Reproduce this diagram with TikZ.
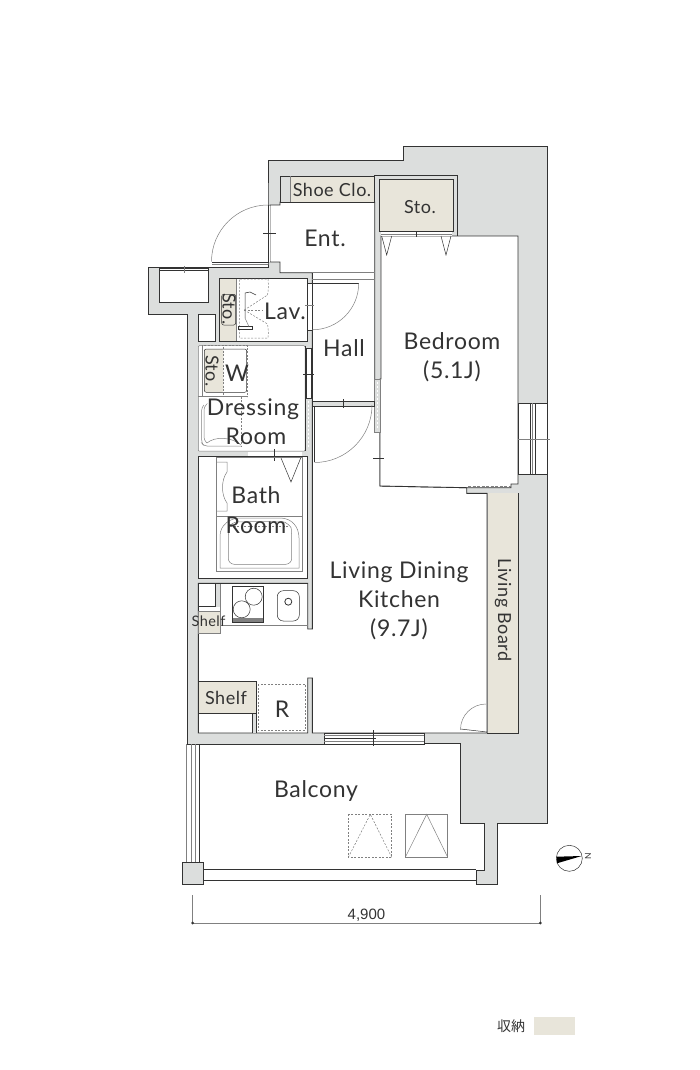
\documentclass[tikz,border=0pt]{standalone}
\usepackage{fontspec}
\setmainfont[LetterSpace=3]{Lato}
\newfontfamily\cjk{Noto Sans CJK JP}
\newfontfamily\dimfont{Liberation Sans}
\definecolor{wallgray}{HTML}{DCDEDD}
\definecolor{storebeige}{HTML}{E8E5DA}
\definecolor{inkdark}{HTML}{333333}
\definecolor{inkgray}{HTML}{808080}
\begin{document}
\begin{tikzpicture}[x=1pt,y=-1pt,
wall/.style={draw=inkdark,line width=0.9pt,line join=miter},
thin gray/.style={draw=inkgray,line width=0.5pt},
thin dark/.style={draw=inkdark,line width=0.5pt},
dash gray/.style={draw=inkgray,line width=0.5pt,dash pattern=on 2pt off 1.5pt},
roomlabel/.style={text=inkdark,font=\fontsize{23}{23}\selectfont,inner sep=0pt,anchor=base,yshift=-1pt},
smalllabel/.style={text=inkdark,font=\fontsize{18}{18}\selectfont,inner sep=0pt}]
\useasboundingbox (0,0) rectangle (700,1070);
\fill[white] (0,0) rectangle (700,1070);
\filldraw[wall,fill=wallgray] (268,160) -- (403,160) -- (403,146) -- (547.5,146) -- (547.5,823) -- (497,823) -- (497,884) -- (476,884) -- (476,870) -- (484,870) -- (484,823) -- (460.5,823) -- (460.5,743.5) -- (424,743.5) -- (424,744) -- (187,744) -- (187,314) -- (148,314) -- (148,267) -- (268,267) -- (268,262) -- (268,205) -- cycle;
\filldraw[wall,fill=white] (270,205) -- (280,205) -- (280,202) -- (374.7,202) -- (374.7,432) -- (380,432) -- (380,486) -- (466.7,487.7) -- (466.7,493.3) -- (487,493.3) -- (487,733) -- (312.3,733) -- (312.3,678) -- (307.7,678) -- (307.7,733) -- (198.3,733) -- (198.3,583.3) -- (307.7,583.3) -- (307.7,629) -- (312.3,629) -- (312.3,272.7) -- (280,272.7) -- (280,262) -- (270,262) -- cycle;
\filldraw[wall,fill=white] (381,236) -- (518,236) -- (518,484) -- (511,484) -- (511,487.7) -- (466.7,487.7) -- (380,486) -- (380,379) -- (381,379) -- cycle;
\filldraw[wall,fill=storebeige] (280,176) rectangle (374.5,202);
\fill[wallgray] (280.5,176.5) rectangle (290,201.5);
\draw[thin gray] (290,176) -- (290,202);
\draw[wall] (374.3,202) -- (374.3,175.7) -- (457.7,175.7) -- (457.7,236);
\filldraw[thin dark,fill=storebeige] (379.3,179.3) rectangle (453.3,231.7);
\fill[white] (381,232) rectangle (452,236);
\draw[thin gray] (381,234) -- (452,234);
\draw[thin dark] (416,231) -- (416,237);
\draw[thin dark] (381.7,236) -- (386.7,255) -- (391.7,236);
\draw[thin dark] (441,236) -- (446,255) -- (451,236);
\filldraw[thin gray,fill=wallgray] (374.7,379) rectangle (380,432);
\draw[draw=white,line width=1pt,dash pattern=on 2pt off 2pt] (377.5,382) -- (377.5,430);
\draw[thin gray] (312,279.3) -- (374.7,279.3);
\draw[thin dark] (373,458.7) -- (384,458.7);
\draw[thin gray] (374.7,272.7) -- (312,272.7);
\filldraw[wall,fill=white] (159.3,268) rectangle (208.3,302.3);
\draw[thin dark] (159.3,270) -- (208.3,270);
\draw[thin gray] (184,266) -- (184,273);
\filldraw[wall,fill=white] (219.7,278.3) rectangle (307.7,341.3);
\filldraw[thin dark,fill=white] (198.3,314) rectangle (215.7,341);
\fill[storebeige] (220.2,278.8) rectangle (236.7,340.8);
\draw[thin gray] (236.7,278.8) -- (236.7,340.8);
\draw[thin dark,rounded corners=2pt] (221.7,294.3) rectangle (235.7,325);
\draw[dash gray] (267.5,295) .. controls (268.5,290) and (268.5,285) .. (268,279) -- (239.3,279) -- (239.3,338) -- (268,338) .. controls (268.5,333) and (268.5,329) .. (267.5,324);
\draw[thin dark] (245,318) -- (245,293) -- (250,292) -- (256,295);
\draw[thin dark] (238.3,326.7) rectangle (252.3,329);
\draw[thin gray] (245,318) -- (249,326.7);
\draw[dash gray] (244.3,310) -- (267.5,295);
\draw[dash gray] (244.3,310) -- (267.5,324);
\draw[dash gray] (244.3,310) -- (262,310);
\filldraw[thin gray,fill=white,rounded corners=1pt] (198.3,345.7) rectangle (305,451.2);
\draw[thin gray] (202.3,345.7) -- (202.3,396.7);
\draw[thin gray] (198.3,396.7) -- (247.7,396.7);
\fill[storebeige,rounded corners=2pt] (204.3,349) rectangle (223.3,392.3);
\draw[thin dark,rounded corners=2pt] (204.3,349) rectangle (246.7,392.3);
\draw[dash gray] (223.3,347) -- (223.3,396);
\draw[dash gray] (202.3,345.7) rectangle (247.7,396.7);
\draw[thin dark] (305,345.7) -- (305,451.2);
\draw[thin gray,rounded corners=3pt] (204,405) -- (201.7,407) -- (201.7,443) -- (204,446) -- (241.7,446);
\draw[thin gray,rounded corners=3pt] (206,405) -- (204,407) -- (204,440) -- (207,443);
\draw[thin gray] (207,443) .. controls (215,436) and (232,437) .. (241,445);
\draw[dash gray] (241.7,396.7) -- (241.7,446);
\filldraw[thin dark,fill=white] (198.3,456.7) rectangle (307.7,578.3);
\fill[white] (247.7,451.5) rectangle (301.7,457);
\draw[thin dark] (247.7,456.7) -- (301.7,456.7);
\draw[thin dark] (274.3,449) -- (274.3,460.7);
\draw[draw=inkgray,line width=0.7pt] (216.7,457.3) rectangle (302.3,571);
\draw[draw=inkgray,line width=1pt] (216.7,516.7) -- (302.3,516.7);
\draw[thin gray] (216.7,462) -- (227,462) -- (227,472) .. controls (221,480) and (221,495) .. (227,503) -- (227,511) -- (216.7,511);
\draw[thin gray] (220,568) -- (220,536) .. controls (220,525) and (230,518) .. (240,518) -- (280,518) .. controls (292,518) and (299,527) .. (299,538) -- (299,568) -- cycle;
\draw[thin gray,rounded corners=6pt] (228.3,564.3) -- (228.3,532) .. controls (230,524) and (236,522) .. (242,521.7) -- (278,521.7) .. controls (285,522) and (291,526) .. (291.7,534) -- (291.7,564.3) -- cycle;
\draw[dash gray] (230,526) -- (288,526);
\draw[thin dark] (281,458) -- (291,482) -- (300.7,458);
\filldraw[thin dark,fill=white] (306.7,348) rectangle (311.7,398);
\draw[thin dark] (303,374.3) -- (314,374.3);
\draw[draw=white,line width=1pt,dash pattern=on 2pt off 2pt] (308.5,401) -- (308.5,449);
\filldraw[thin dark,fill=wallgray] (312.5,401.7) rectangle (374.7,406);
\draw[thin dark] (343.3,399) -- (343.3,408);
\draw[thin dark] (314.3,406) -- (314.3,462.3);
\draw[thin gray] (372,405) arc[start angle=0,end angle=90,radius=57.5];
\fill[white] (308,283) rectangle (312.3,329.5);
\draw[thin dark] (308,283.3) -- (358.7,283.3);
\draw[thin gray] (358.7,283.3) arc[start angle=0,end angle=90,radius=46.5];
\draw[thin dark] (312.2,329.8) -- (308,329.8);
\draw[thin gray] (305,305.7) -- (314,305.7);
\fill[white] (268,205.5) rectangle (270,261.5);
\draw[thin dark] (268,205) -- (268,262) -- (212,262);
\draw[thin gray] (212,264) -- (268,264);
\draw[thin gray] (268,205) arc[start angle=270,end angle=180,radius=56.5];
\draw[thin dark] (263,233) -- (276,233);
\fill[white] (518.5,403.3) rectangle (547,474.3);
\draw[wall] (518,403.3) -- (547.5,403.3);
\draw[wall] (518,474.3) -- (547.5,474.3);
\draw[wall] (518,403.3) -- (518,474.3);
\draw[wall] (547.5,403.3) -- (547.5,474.3);
\draw[thin dark] (530.3,403.3) -- (530.3,474.3);
\draw[draw=inkgray,line width=0.9pt] (532.7,403.3) -- (532.7,474.3);
\draw[thin dark] (535.3,403.3) -- (535.3,474.3);
\draw[thin gray] (518,439.3) -- (550,439.3);
\draw[draw=inkgray,line width=1pt,dash pattern=on 3pt off 1.5pt] (468,486) -- (510.5,486);
\fill[storebeige] (487,493.3) rectangle (518,733);
\draw[draw=inkgray,line width=0.9pt] (487,493.3) -- (487,733);
\draw[wall] (518,493.3) -- (518,733) -- (487,733);
\draw[thin gray] (486,704) arc[start angle=270,end angle=180,radius=25.5];
\draw[thin dark] (460.5,729) -- (487,732);
\fill[white] (324,733.5) rectangle (424,743.5);
\draw[thin dark] (324,733) rectangle (424,744);
\draw[thin gray] (324,735.5) -- (424,735.5);
\draw[thin gray] (324,741) -- (424,741);
\draw[thin dark] (325,738) -- (376,738);
\draw[thin dark] (373.6,730) -- (373.6,746);
\filldraw[thin dark,fill=white] (198.3,583.3) rectangle (215.7,606.7);
\fill[wallgray] (215.7,583.5) rectangle (220,606.5);
\draw[thin gray] (220,583.3) -- (220,625) -- (307.7,625);
\filldraw[thin gray,fill=storebeige] (198.3,611.7) rectangle (220.3,633);
\draw[thin dark] (220,583.3) -- (307.7,583.3);
\fill[inkgray] (232.3,618) rectangle (263.3,622.3);
\draw[draw=inkdark,line width=0.9pt] (232.3,586) rectangle (263.3,622.3);
\draw[thin dark] (253.7,596.7) circle (8.5);
\filldraw[thin dark,fill=white] (241.7,609.3) circle (8.5);
\draw[thin dark,rounded corners=6pt] (277.3,590.7) rectangle (299.3,621);
\draw[draw=inkdark,line width=0.8pt] (288.3,601.7) circle (3.5);
\filldraw[wall,fill=storebeige] (198.3,681.7) rectangle (256.3,713.3);
\fill[wallgray] (252,713.5) rectangle (256.3,733);
\draw[thin dark] (252,713.3) -- (252,733);
\draw[thin dark] (256.3,713.3) -- (256.3,733);
\draw[dash gray] (258.3,684.3) rectangle (305,730.7);
\draw[dash gray] (348.3,814.3) rectangle (391.7,857.3);
\draw[dash gray] (348.3,857.3) -- (370.3,814.3) -- (391.7,857.3);
\draw[thin gray] (405.3,814.3) rectangle (447.7,857.3);
\draw[thin gray] (405.3,857.3) -- (426.7,814.3) -- (447.7,857.3);
\draw[thin gray] (186.7,744) -- (186.7,862.7);
\draw[thin gray] (191.7,744) -- (191.7,862.7);
\draw[thin gray] (195,744) -- (195,862.7);
\draw[thin dark] (199,744) -- (199,862.7);
\filldraw[wall,fill=wallgray] (182.3,862.7) rectangle (203.7,884.3);
\draw[wall] (203.7,869.3) -- (476,869.3);
\draw[wall] (203.7,880.3) -- (476,880.3);
\coordinate (dimleft) at (192.7,923);
\coordinate (dimright) at (540.3,923);
\draw[thin gray] (192.7,895) -- (dimleft) -- (dimright) -- (540.3,895);
\fill[inkdark] (dimleft) circle (1.5);
\fill[inkdark] (dimright) circle (1.5);
\node[text=inkdark,font=\dimfont\fontsize{15}{15}\selectfont,inner sep=0pt] (dimlabel) at (366.5,915.5) {4,900};
\filldraw[thin dark,fill=white] (569.3,858.3) circle (13);
\fill[black] (556.7,856.7) -- (581.7,856) -- (556.9,863.3) -- cycle;
\node[rotate=90,text=inkdark,font=\fontsize{8.5}{8.5}\selectfont,inner sep=0pt] (northmark) at (588,856) {N};
\node[roomlabel] (ent) at (325,245.5) {Ent.};
\node[smalllabel] (shoeclo) at (332,190) {Shoe Clo.};
\node[smalllabel] (stotop) at (420,207) {Sto.};
\node[roomlabel] (lav) at (285,318) {Lav.};
\node[smalllabel,rotate=-90] (stolav) at (229,309) {Sto.};
\node[roomlabel] (hall) at (344,355.5) {Hall};
\node[roomlabel] (bedroom) at (452,348.5) {Bedroom};
\node[roomlabel] (bedsize) at (452,377.5) {(5.1J)};
\node[smalllabel,rotate=-90] (stodress) at (212,371) {Sto.};
\node[roomlabel] (washer) at (237,380.5) {W};
\node[roomlabel] (dressing) at (253,414.5) {Dressing};
\node[roomlabel] (dressroom) at (256,443) {Room};
\node[roomlabel] (bath) at (256,502.5) {Bath};
\node[roomlabel] (bathroom) at (256,532.5) {Room};
\node[roomlabel] (ldk) at (399,577.5) {Living Dining};
\node[roomlabel] (kitchen) at (399,606.5) {Kitchen};
\node[roomlabel] (ldksize) at (399,635) {(9.7J)};
\node[smalllabel,rotate=-90] (board) at (503,610) {Living Board};
\node[text=inkdark,font=\fontsize{14.5}{14.5}\selectfont,inner sep=0pt] (shelfsmall) at (208.5,621) {Shelf};
\node[smalllabel] (shelf) at (226,698) {Shelf};
\node[roomlabel] (fridge) at (282,716) {R};
\node[roomlabel] (balcony) at (316,796.5) {Balcony};
\node[text=inkdark,font=\cjk\fontsize{14}{14}\selectfont,inner sep=0pt] (legend) at (511,1026) {収納};
\fill[storebeige] (534,1017) rectangle (575,1035);
\end{tikzpicture}
\end{document}
